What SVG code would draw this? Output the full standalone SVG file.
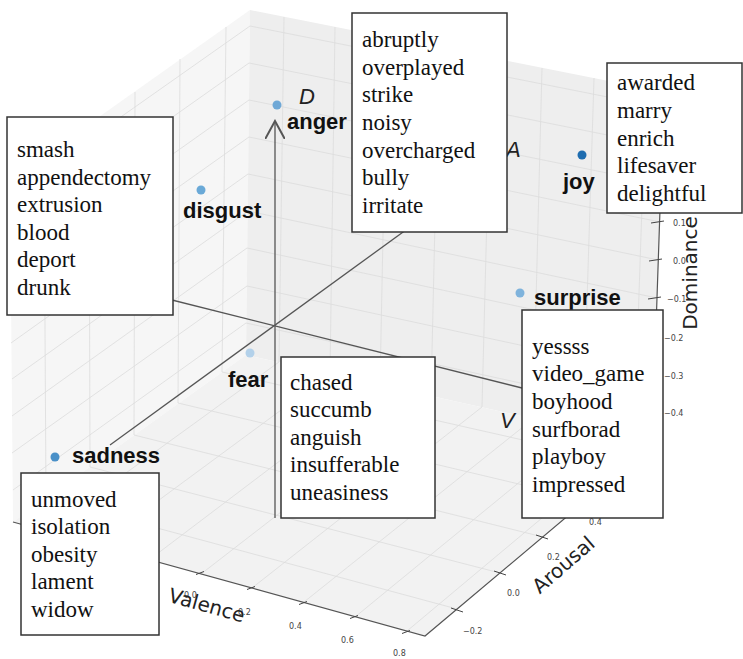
<svg xmlns="http://www.w3.org/2000/svg" width="743" height="659" viewBox="0 0 743 659">
<style>
.pane-l{fill:#f6f6f6}
.pane-r{fill:#eeeeee}
.pane-f{fill:#f2f2f2}
.grid{stroke:#dcdcdc;stroke-width:0.8;fill:none}
.axis{stroke:#555;stroke-width:1.2;fill:none}
.tick{stroke:#444;stroke-width:1;fill:none}
.tl{font-family:"DejaVu Sans",sans-serif;font-size:8px;fill:#444}
.title{font-family:"DejaVu Sans",sans-serif;font-size:20px;fill:#222}
.conn{stroke:#555;stroke-width:1.3;fill:none}
.ax{font-family:"Liberation Sans",Arial,sans-serif;font-style:italic;font-size:22px;fill:#222}
.lbl{font-family:"Liberation Sans",Arial,sans-serif;font-weight:bold;font-size:22px;fill:#111}
.box{fill:#fff;stroke:#333;stroke-width:1.5}
.words{font-family:"Liberation Serif","Times New Roman",serif;font-size:23px;fill:#111}
</style>
<defs>
<marker id="open" viewBox="0 0 12 12" refX="11" refY="6" markerWidth="20" markerHeight="20" markerUnits="userSpaceOnUse" orient="auto">
<path d="M0,0 L11,6 L0,12" fill="none" stroke="#555" stroke-width="1.2"/>
</marker>
</defs>

<g id="axes3d">
<polygon class="pane-l" points="250,10 246,355 13,522 10,180"/>
<polygon class="pane-r" points="250,10 664,92 652,445 246,355"/>
<polygon class="pane-f" points="246,355 652,445 425,636 13,522"/>
<path class="grid" d="M279,362L284,17M330,374L335,27M380,385L387,37M431,396L439,47M482,407L491,58M533,419L542,68M583,430L594,78M634,441L646,88M246,323L653,412M247,286L654,374M247,248L656,336M248,211L657,298M248,174L658,260M249,137L660,222M249,100L661,184M249,63L662,146M250,26L663,108"/>
<path class="grid" d="M46,498L44,156M90,467L89,124M134,435L135,92M178,403L180,59M222,372L226,27M13,490L246,323M12,453L247,286M12,416L247,248M12,379L248,211M11,343L248,174M11,306L249,137M11,269L249,100M10,232L249,63M10,195L250,26"/>
<path class="grid" d="M46,531L279,362M98,545L330,374M149,560L380,385M201,574L431,396M252,588L482,407M304,602L533,419M355,617L583,430M407,631L634,441M46,498L457,609M90,467L500,573M134,435L543,537M178,403L586,500M222,372L629,464"/>
<path class="axis" d="M13,522L425,636L652,445L664,92"/>
<path class="tick" d="M196,574.5l8,-3M247,589.5l8,-3M299,604.5l8,-3M350,618.5l8,-3M402,633.5l8,-3M451,608l12,4M494,571l12,4M536,535l12,4M651,223l13,-2M649,261l13,-2M648,299l13,-2M647,339l13,-2M646,377l13,-2M646,414l13,-2"/>
<text class="tl" x="184" y="598">0.0</text>
<text class="tl" x="238" y="615">0.2</text>
<text class="tl" x="289" y="629">0.4</text>
<text class="tl" x="341" y="643">0.6</text>
<text class="tl" x="393" y="656">0.8</text>
<text class="tl" x="463" y="634">−0.2</text>
<text class="tl" x="507" y="596">0.0</text>
<text class="tl" x="547" y="560">0.2</text>
<text class="tl" x="589" y="525">0.4</text>
<text class="tl" x="673" y="226">0.1</text>
<text class="tl" x="673" y="264">0.0</text>
<text class="tl" x="667" y="302">−0.1</text>
<text class="tl" x="664" y="341">−0.2</text>
<text class="tl" x="664" y="379">−0.3</text>
<text class="tl" x="664" y="416">−0.4</text>
<text class="title" text-anchor="middle" transform="translate(205,612) rotate(15.5)">Valence</text>
<text class="title" text-anchor="middle" transform="translate(568,570) rotate(-41)">Arousal</text>
<text class="title" text-anchor="middle" transform="translate(697,273) rotate(-90)">Dominance</text>
</g>

<g id="connectors">
<path class="conn" d="M275,518V121" marker-end="url(#open)"/>
<path class="conn" d="M110,445L410,227"/>
<path class="conn" d="M160,297L530,390"/>
<text class="ax" x="299" y="104">D</text>
<text class="ax" x="506" y="157">A</text>
<text class="ax" x="500" y="428">V</text>
</g>

<g id="node-anger">
<circle cx="277" cy="105" r="4.5" fill="#6fa8d6"/>
<text class="lbl" x="287" y="129">anger</text>
<rect class="box" x="352" y="13" width="155" height="219"/>
<text class="words"><tspan x="362" y="47">abruptly</tspan><tspan x="362" y="75">overplayed</tspan><tspan x="362" y="102">strike</tspan><tspan x="362" y="130">noisy</tspan><tspan x="362" y="158">overcharged</tspan><tspan x="362" y="185">bully</tspan><tspan x="362" y="213">irritate</tspan></text>
</g>

<g id="node-disgust">
<circle cx="201" cy="190" r="4.5" fill="#6aa9d7"/>
<text class="lbl" x="183" y="218">disgust</text>
<rect class="box" x="7" y="117" width="166" height="198"/>
<text class="words"><tspan x="17" y="157">smash</tspan><tspan x="17" y="185">appendectomy</tspan><tspan x="17" y="212">extrusion</tspan><tspan x="17" y="240">blood</tspan><tspan x="17" y="267">deport</tspan><tspan x="17" y="295">drunk</tspan></text>
</g>

<g id="node-joy">
<circle cx="582" cy="155" r="4.5" fill="#1f6db0"/>
<text class="lbl" x="563" y="189">joy</text>
<rect class="box" x="607" y="63" width="135" height="150"/>
<text class="words"><tspan x="617" y="90">awarded</tspan><tspan x="617" y="118">marry</tspan><tspan x="617" y="146">enrich</tspan><tspan x="617" y="173">lifesaver</tspan><tspan x="617" y="201">delightful</tspan></text>
</g>

<g id="node-surprise">
<circle cx="520" cy="293" r="4.5" fill="#7fb3dc"/>
<text class="lbl" x="534" y="305">surprise</text>
<rect class="box" x="522" y="310" width="141" height="208"/>
<text class="words"><tspan x="532" y="354">yessss</tspan><tspan x="532" y="381">video_game</tspan><tspan x="532" y="409">boyhood</tspan><tspan x="532" y="437">surfborad</tspan><tspan x="532" y="464">playboy</tspan><tspan x="532" y="492">impressed</tspan></text>
</g>

<g id="node-fear">
<circle cx="250" cy="353" r="4.5" fill="#b3d1ea"/>
<text class="lbl" x="228" y="387">fear</text>
<rect class="box" x="281" y="357" width="154" height="161"/>
<text class="words"><tspan x="290" y="390">chased</tspan><tspan x="290" y="417">succumb</tspan><tspan x="290" y="445">anguish</tspan><tspan x="290" y="472">insufferable</tspan><tspan x="290" y="500">uneasiness</tspan></text>
</g>

<g id="node-sadness">
<circle cx="55" cy="457" r="4.5" fill="#4a90c8"/>
<text class="lbl" x="72" y="463">sadness</text>
<rect class="box" x="21" y="473" width="138" height="162"/>
<text class="words"><tspan x="31" y="507">unmoved</tspan><tspan x="31" y="534">isolation</tspan><tspan x="31" y="562">obesity</tspan><tspan x="31" y="589">lament</tspan><tspan x="31" y="617">widow</tspan></text>
</g>
</svg>
